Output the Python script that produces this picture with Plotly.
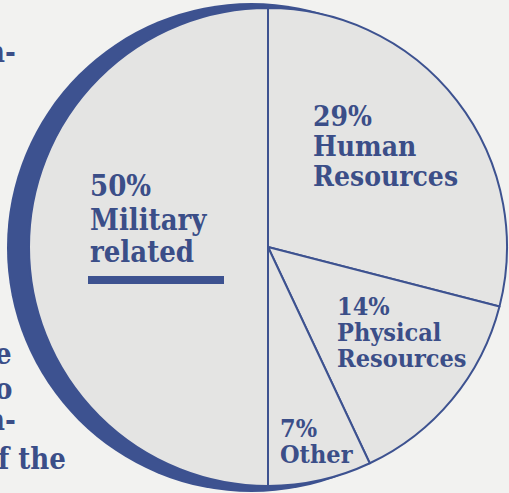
import plotly.graph_objects as go

# Data
categories = ["Human Resources", "Physical Resources", "Other", "Military related"]
shares = [29, 14, 7, 50]
pct_labels = ["29%", "14%", "7%", "50%"]
name_lines = [["Human", "Resources"], ["Physical", "Resources"], ["Other"], ["Military", "related"]]
side_fragments = ["n-", "e", "o", "n-", "f the"]

W, H = 509, 493
BLUE = "#3d5290"
TEXT = "#3b4e88"
PIE_FILL = "#e4e4e3"
PAPER = "#f2f2f0"
FONT = "DejaVu Serif Condensed, DejaVu Serif, serif"

def px_dom(cx, cy, r):
    return dict(x=[(cx - r) / W, (cx + r) / W], y=[(H - cy - r) / H, (H - cy + r) / H])

fig = go.Figure()
# shadow disc
fig.add_trace(go.Pie(values=[1], labels=["shadow"], domain=px_dom(251.5, 247.5, 244.5),
                     marker=dict(colors=[BLUE], line=dict(width=0)), textinfo="none",
                     hoverinfo="skip", sort=False, showlegend=False))
# main pie
fig.add_trace(go.Pie(values=shares, labels=categories, domain=px_dom(268, 247, 239),
                     direction="clockwise", rotation=0, sort=False,
                     marker=dict(colors=[PIE_FILL] * 4, line=dict(color=BLUE, width=2)),
                     textinfo="none", hoverinfo="label+percent", showlegend=False))

annotations = []
def add_lines(lines, x, ys, size):
    for t, y in zip(lines, ys):
        annotations.append(dict(text="<b>%s</b>" % t, x=x / W, y=1 - y / H, xref="paper", yref="paper",
                                xanchor="left", yanchor="middle", showarrow=False,
                                font=dict(family=FONT, size=size, color=TEXT)))

add_lines([pct_labels[3]] + name_lines[3], 88, [186, 220, 252], 29)
add_lines([pct_labels[0]] + name_lines[0], 311, [116, 146, 176], 28)
add_lines([pct_labels[1]] + name_lines[1], 335, [306, 332, 358], 25)
add_lines([pct_labels[2]] + name_lines[2], 278, [428, 454], 25)

frag_pos = [(18, 52), (14, 354), (14, 389), (18, 420), (68, 459)]
for t, (x, y) in zip(side_fragments, frag_pos):
    annotations.append(dict(text="<b>%s</b>" % t, x=x / W, y=1 - y / H, xref="paper", yref="paper",
                            xanchor="right", yanchor="middle", showarrow=False,
                            font=dict(family=FONT, size=29, color=TEXT)))

fig.update_layout(
    width=W, height=H, margin=dict(l=0, r=0, t=0, b=0),
    paper_bgcolor=PAPER, plot_bgcolor=PAPER,
    annotations=annotations,
    shapes=[dict(type="rect", xref="paper", yref="paper",
                 x0=88 / W, x1=224 / W, y0=1 - 284 / H, y1=1 - 276 / H,
                 fillcolor=BLUE, line=dict(width=0))],
)
fig.write_html("out.html")
